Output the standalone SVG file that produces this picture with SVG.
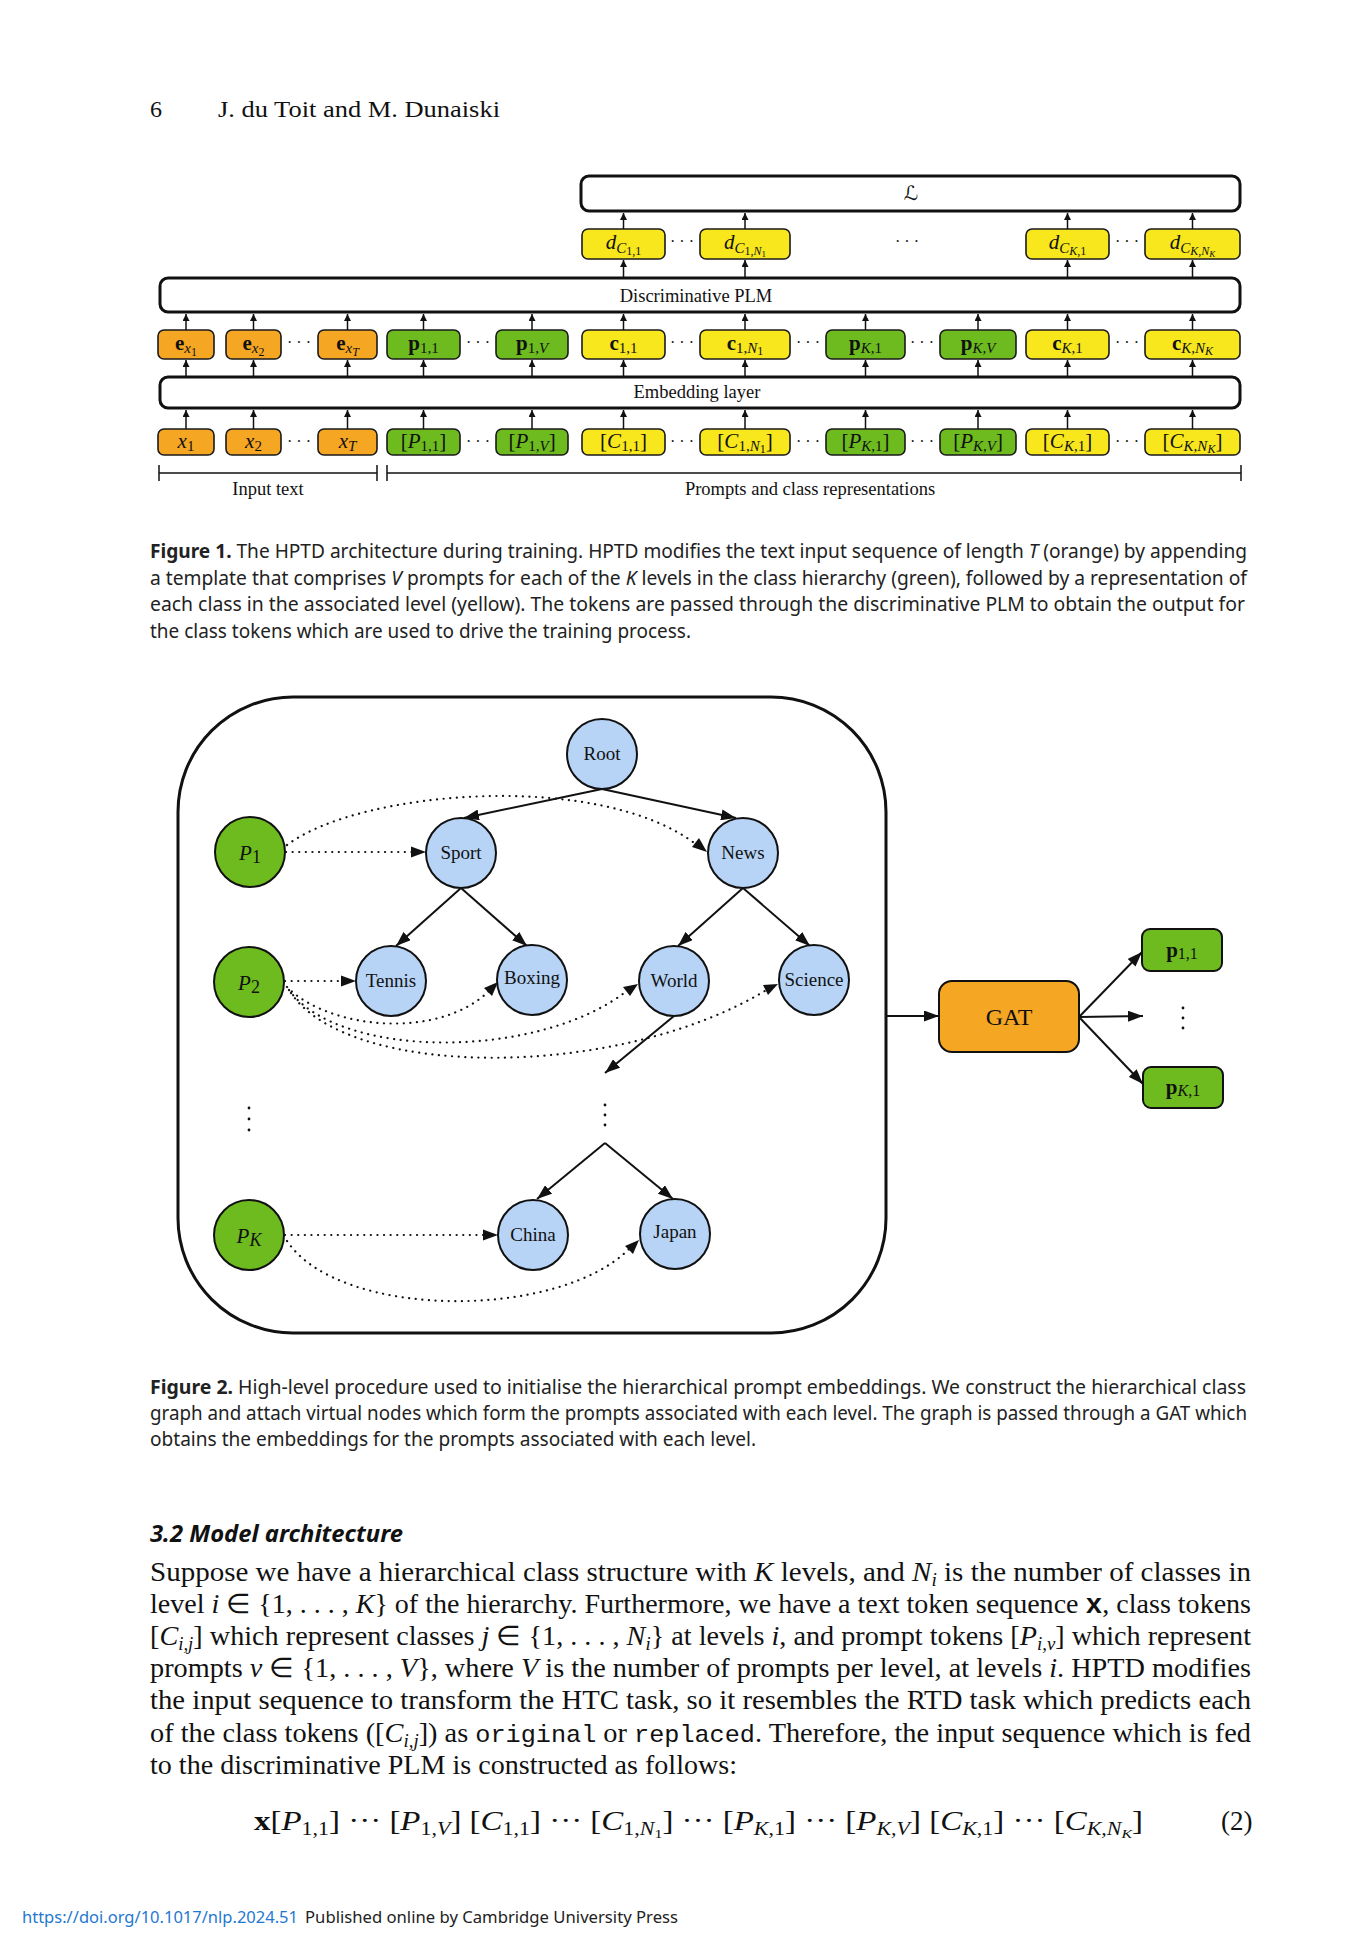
<svg xmlns="http://www.w3.org/2000/svg" width="1370" height="1944" viewBox="0 0 1370 1944">
<style>
.bg{fill:#ffffff}
.or{fill:#F5A623;stroke:#1a1a1a;stroke-width:1.6}
.gr{fill:#6DBB1E;stroke:#1a1a1a;stroke-width:1.6}
.ye{fill:#F8E71C;stroke:#1a1a1a;stroke-width:1.6}
.big{fill:#ffffff;stroke:#111;stroke-width:3}
.bl{fill:#B7D4F6;stroke:#111;stroke-width:2}
.gn{fill:#6DBB1E;stroke:#111;stroke-width:2}
.t{font-family:"Liberation Serif","Times New Roman",serif;font-size:21px;fill:#111;text-anchor:middle}
.i{font-style:italic}
.b{font-weight:bold}
.s{font-size:15px}
.ss{font-size:12px}
.dots{font-family:"Liberation Serif",serif;font-size:16px;fill:#111;text-anchor:middle}
.a1{stroke:#111;stroke-width:1.5;fill:none}
.a2{stroke:#111;stroke-width:2;fill:none}
.dt{stroke:#111;stroke-width:2.2;fill:none;stroke-dasharray:0.1 6.5;stroke-linecap:round}
.lab{font-family:"Liberation Serif","Times New Roman",serif;font-size:19px;fill:#111;text-anchor:middle}
.cap{font-family:"Noto Sans","Liberation Sans",sans-serif;font-size:19px;fill:#222}
.body{font-family:"Liberation Serif","Times New Roman",serif;font-size:27px;fill:#111}
.mono{font-family:"Liberation Mono","DejaVu Sans Mono",monospace}
</style>
<defs>
<marker id="m1" markerUnits="userSpaceOnUse" markerWidth="7" markerHeight="7" refX="7" refY="3.5" orient="auto"><path d="M0,0 L7,3.5 L0,7 z" fill="#111"/></marker>
<marker id="m2" markerUnits="userSpaceOnUse" markerWidth="15" markerHeight="11" refX="15" refY="5.5" orient="auto"><path d="M0,0 L15,5.5 L0,11 z" fill="#111"/></marker>
</defs>
<rect class="bg" x="0" y="0" width="1370" height="1944"/>

<g id="header">
<text x="150" y="117" font-family="Liberation Serif,serif" font-size="24" fill="#111">6</text>
<text x="218" y="117" font-family="Liberation Serif,serif" font-size="24" fill="#111" textLength="282" lengthAdjust="spacingAndGlyphs">J. du Toit and M. Dunaiski</text>
</g>

<!-- ================= FIGURE 1 ================= -->
<g id="fig1-loss"><rect class="big" x="581" y="176" width="659" height="35" rx="8"/>
<text x="911" y="200" font-family="DejaVu Serif,DejaVu Sans,serif" font-style="italic" font-size="20" fill="#111" text-anchor="middle">ℒ</text></g>
<g id="fig1-plm"><rect class="big" x="160" y="278" width="1080" height="34" rx="8"/>
<text x="696" y="302" font-family="Liberation Serif,serif" font-size="18.5" fill="#111" text-anchor="middle">Discriminative PLM</text></g>
<g id="fig1-emb"><rect class="big" x="160" y="377" width="1080" height="31" rx="8"/>
<text x="697" y="398" font-family="Liberation Serif,serif" font-size="18.5" fill="#111" text-anchor="middle">Embedding layer</text></g>

<g id="d11"><rect class="ye" x="582" y="229" width="83" height="30" rx="6"/><text class="t" x="623.5" y="249"><tspan class="i">d</tspan><tspan class="s i" dy="4">C</tspan><tspan class="ss" dy="2">1,1</tspan></text></g>
<g id="d1N"><rect class="ye" x="700" y="229" width="90" height="30" rx="6"/><text class="t" x="745" y="249"><tspan class="i">d</tspan><tspan class="s i" dy="4">C</tspan><tspan class="ss" dy="2">1,</tspan><tspan class="ss i">N</tspan><tspan font-size="9" dy="2">1</tspan></text></g>
<g id="dK1"><rect class="ye" x="1026" y="229" width="83" height="30" rx="6"/><text class="t" x="1067.5" y="249"><tspan class="i">d</tspan><tspan class="s i" dy="4">C</tspan><tspan class="ss i" dy="2">K</tspan><tspan class="ss">,1</tspan></text></g>
<g id="dKN"><rect class="ye" x="1145" y="229" width="95" height="30" rx="6"/><text class="t" x="1192.5" y="249"><tspan class="i">d</tspan><tspan class="s i" dy="4">C</tspan><tspan class="ss i" dy="2">K,N</tspan><tspan class="i" font-size="9" dy="2">K</tspan></text></g>

<g id="ex1"><rect class="or" x="158" y="330" width="56" height="29" rx="6"/><text class="t" x="186" y="350"><tspan class="b">e</tspan><tspan class="s i" dy="3">x</tspan><tspan class="ss" dy="3">1</tspan></text></g>
<g id="ex2"><rect class="or" x="226" y="330" width="55" height="29" rx="6"/><text class="t" x="253.5" y="350"><tspan class="b">e</tspan><tspan class="s i" dy="3">x</tspan><tspan class="ss" dy="3">2</tspan></text></g>
<g id="exT"><rect class="or" x="318" y="330" width="59" height="29" rx="6"/><text class="t" x="347.5" y="350"><tspan class="b">e</tspan><tspan class="s i" dy="3">x</tspan><tspan class="ss i" dy="3">T</tspan></text></g>
<g id="p11"><rect class="gr" x="387" y="330" width="73" height="29" rx="6"/><text class="t" x="423.5" y="350"><tspan class="b">p</tspan><tspan class="s" dy="3">1,1</tspan></text></g>
<g id="p1V"><rect class="gr" x="496" y="330" width="72" height="29" rx="6"/><text class="t" x="532" y="350"><tspan class="b">p</tspan><tspan class="s" dy="3">1,</tspan><tspan class="s i">V</tspan></text></g>
<g id="c11"><rect class="ye" x="582" y="330" width="83" height="29" rx="6"/><text class="t" x="623.5" y="350"><tspan class="b">c</tspan><tspan class="s" dy="3">1,1</tspan></text></g>
<g id="c1N"><rect class="ye" x="700" y="330" width="90" height="29" rx="6"/><text class="t" x="745" y="350"><tspan class="b">c</tspan><tspan class="s" dy="3">1,</tspan><tspan class="s i">N</tspan><tspan class="ss" dy="2">1</tspan></text></g>
<g id="pK1"><rect class="gr" x="826" y="330" width="79" height="29" rx="6"/><text class="t" x="865.5" y="350"><tspan class="b">p</tspan><tspan class="s i" dy="3">K</tspan><tspan class="s">,1</tspan></text></g>
<g id="pKV"><rect class="gr" x="940" y="330" width="76" height="29" rx="6"/><text class="t" x="978" y="350"><tspan class="b">p</tspan><tspan class="s i" dy="3">K,V</tspan></text></g>
<g id="cK1"><rect class="ye" x="1026" y="330" width="83" height="29" rx="6"/><text class="t" x="1067.5" y="350"><tspan class="b">c</tspan><tspan class="s i" dy="3">K</tspan><tspan class="s">,1</tspan></text></g>
<g id="cKN"><rect class="ye" x="1145" y="330" width="95" height="29" rx="6"/><text class="t" x="1192.5" y="350"><tspan class="b">c</tspan><tspan class="s i" dy="3">K,N</tspan><tspan class="ss i" dy="2">K</tspan></text></g>

<g id="x1"><rect class="or" x="158" y="429" width="56" height="26" rx="6"/><text class="t" x="186" y="448"><tspan class="i">x</tspan><tspan class="s" dy="3">1</tspan></text></g>
<g id="x2"><rect class="or" x="226" y="429" width="55" height="26" rx="6"/><text class="t" x="253.5" y="448"><tspan class="i">x</tspan><tspan class="s" dy="3">2</tspan></text></g>
<g id="xT"><rect class="or" x="318" y="429" width="59" height="26" rx="6"/><text class="t" x="347.5" y="448"><tspan class="i">x</tspan><tspan class="s i" dy="3">T</tspan></text></g>
<g id="P11"><rect class="gr" x="387" y="429" width="73" height="26" rx="6"/><text class="t" x="423.5" y="448">[<tspan class="i">P</tspan><tspan class="s" dy="3">1,1</tspan><tspan dy="-3">]</tspan></text></g>
<g id="P1V"><rect class="gr" x="496" y="429" width="72" height="26" rx="6"/><text class="t" x="532" y="448">[<tspan class="i">P</tspan><tspan class="s" dy="3">1,</tspan><tspan class="s i">V</tspan><tspan dy="-3">]</tspan></text></g>
<g id="C11"><rect class="ye" x="582" y="429" width="83" height="26" rx="6"/><text class="t" x="623.5" y="448">[<tspan class="i">C</tspan><tspan class="s" dy="3">1,1</tspan><tspan dy="-3">]</tspan></text></g>
<g id="C1N"><rect class="ye" x="700" y="429" width="90" height="26" rx="6"/><text class="t" x="745" y="448">[<tspan class="i">C</tspan><tspan class="s" dy="3">1,</tspan><tspan class="s i">N</tspan><tspan class="ss" dy="2">1</tspan><tspan dy="-5">]</tspan></text></g>
<g id="PK1"><rect class="gr" x="826" y="429" width="79" height="26" rx="6"/><text class="t" x="865.5" y="448">[<tspan class="i">P</tspan><tspan class="s i" dy="3">K</tspan><tspan class="s">,1</tspan><tspan dy="-3">]</tspan></text></g>
<g id="PKV"><rect class="gr" x="940" y="429" width="76" height="26" rx="6"/><text class="t" x="978" y="448">[<tspan class="i">P</tspan><tspan class="s i" dy="3">K,V</tspan><tspan dy="-3">]</tspan></text></g>
<g id="CK1"><rect class="ye" x="1026" y="429" width="83" height="26" rx="6"/><text class="t" x="1067.5" y="448">[<tspan class="i">C</tspan><tspan class="s i" dy="3">K</tspan><tspan class="s">,1</tspan><tspan dy="-3">]</tspan></text></g>
<g id="CKN"><rect class="ye" x="1145" y="429" width="95" height="26" rx="6"/><text class="t" x="1192.5" y="448">[<tspan class="i">C</tspan><tspan class="s i" dy="3">K,N</tspan><tspan class="ss i" dy="2">K</tspan><tspan dy="-5">]</tspan></text></g>

<g id="fig1-dots">
<text class="dots" x="682" y="247">· · ·</text><text class="dots" x="907" y="247">· · ·</text><text class="dots" x="1127" y="247">· · ·</text>
<text class="dots" x="299" y="348">· · ·</text><text class="dots" x="478" y="348">· · ·</text><text class="dots" x="682" y="348">· · ·</text><text class="dots" x="808" y="348">· · ·</text><text class="dots" x="922" y="348">· · ·</text><text class="dots" x="1127" y="348">· · ·</text>
<text class="dots" x="299" y="447">· · ·</text><text class="dots" x="478" y="447">· · ·</text><text class="dots" x="682" y="447">· · ·</text><text class="dots" x="808" y="447">· · ·</text><text class="dots" x="922" y="447">· · ·</text><text class="dots" x="1127" y="447">· · ·</text>
</g>

<g id="fig1-connectors">
<g marker-end="url(#m1)" class="a1">
<line x1="186" y1="429" x2="186" y2="410"/><line x1="253.5" y1="429" x2="253.5" y2="410"/><line x1="347.5" y1="429" x2="347.5" y2="410"/><line x1="423.5" y1="429" x2="423.5" y2="410"/><line x1="532" y1="429" x2="532" y2="410"/><line x1="623.5" y1="429" x2="623.5" y2="410"/><line x1="745" y1="429" x2="745" y2="410"/><line x1="865.5" y1="429" x2="865.5" y2="410"/><line x1="978" y1="429" x2="978" y2="410"/><line x1="1067.5" y1="429" x2="1067.5" y2="410"/><line x1="1192.5" y1="429" x2="1192.5" y2="410"/>
<line x1="186" y1="377" x2="186" y2="360"/><line x1="253.5" y1="377" x2="253.5" y2="360"/><line x1="347.5" y1="377" x2="347.5" y2="360"/><line x1="423.5" y1="377" x2="423.5" y2="360"/><line x1="532" y1="377" x2="532" y2="360"/><line x1="623.5" y1="377" x2="623.5" y2="360"/><line x1="745" y1="377" x2="745" y2="360"/><line x1="865.5" y1="377" x2="865.5" y2="360"/><line x1="978" y1="377" x2="978" y2="360"/><line x1="1067.5" y1="377" x2="1067.5" y2="360"/><line x1="1192.5" y1="377" x2="1192.5" y2="360"/>
<line x1="186" y1="330" x2="186" y2="314"/><line x1="253.5" y1="330" x2="253.5" y2="314"/><line x1="347.5" y1="330" x2="347.5" y2="314"/><line x1="423.5" y1="330" x2="423.5" y2="314"/><line x1="532" y1="330" x2="532" y2="314"/><line x1="623.5" y1="330" x2="623.5" y2="314"/><line x1="745" y1="330" x2="745" y2="314"/><line x1="865.5" y1="330" x2="865.5" y2="314"/><line x1="978" y1="330" x2="978" y2="314"/><line x1="1067.5" y1="330" x2="1067.5" y2="314"/><line x1="1192.5" y1="330" x2="1192.5" y2="314"/>
<line x1="623.5" y1="278" x2="623.5" y2="260"/><line x1="745" y1="278" x2="745" y2="260"/><line x1="1067.5" y1="278" x2="1067.5" y2="260"/><line x1="1192.5" y1="278" x2="1192.5" y2="260"/>
<line x1="623.5" y1="229" x2="623.5" y2="213"/><line x1="745" y1="229" x2="745" y2="213"/><line x1="1067.5" y1="229" x2="1067.5" y2="213"/><line x1="1192.5" y1="229" x2="1192.5" y2="213"/>
</g>
<g class="a1">
<line x1="159" y1="473" x2="377" y2="473"/><line x1="159" y1="465" x2="159" y2="481"/><line x1="377" y1="465" x2="377" y2="481"/>
<line x1="387" y1="473" x2="1241" y2="473"/><line x1="387" y1="465" x2="387" y2="481"/><line x1="1241" y1="465" x2="1241" y2="481"/>
</g>
</g>
<text x="268" y="495" font-family="Liberation Serif,serif" font-size="18.5" fill="#111" text-anchor="middle">Input text</text>
<text x="810" y="495" font-family="Liberation Serif,serif" font-size="18.5" fill="#111" text-anchor="middle">Prompts and class representations</text>

<g id="caption1" class="cap">
<text x="150" y="558" textLength="1097" lengthAdjust="spacingAndGlyphs"><tspan font-weight="bold">Figure 1.</tspan>  The HPTD architecture during training. HPTD modifies the text input sequence of length <tspan font-style="italic">T</tspan> (orange) by appending</text>
<text x="150" y="585" textLength="1097" lengthAdjust="spacingAndGlyphs">a template that comprises <tspan font-style="italic">V</tspan> prompts for each of the <tspan font-style="italic">K</tspan> levels in the class hierarchy (green), followed by a representation of</text>
<text x="150" y="611" textLength="1095" lengthAdjust="spacingAndGlyphs">each class in the associated level (yellow). The tokens are passed through the discriminative PLM to obtain the output for</text>
<text x="150" y="638" textLength="541" lengthAdjust="spacingAndGlyphs">the class tokens which are used to drive the training process.</text>
</g>

<!-- ================= FIGURE 2 ================= -->
<g id="fig2-frame"><rect x="178" y="697" width="708" height="636" rx="115" ry="115" fill="none" stroke="#111" stroke-width="3"/></g>

<g id="fig2-connectors">
<g class="a2" marker-end="url(#m2)">
<line x1="602" y1="789" x2="464" y2="818"/>
<line x1="602" y1="789" x2="736" y2="818"/>
<line x1="461" y1="888" x2="396" y2="946"/>
<line x1="461" y1="888" x2="527" y2="946"/>
<line x1="743" y1="888" x2="678" y2="946"/>
<line x1="743" y1="888" x2="810" y2="946"/>
<line x1="674" y1="1016" x2="605" y2="1073"/>
<line x1="605" y1="1143" x2="537" y2="1199"/>
<line x1="605" y1="1143" x2="673" y2="1199"/>
<line x1="886" y1="1016" x2="939" y2="1016"/>
<line x1="1079" y1="1017" x2="1142" y2="952"/>
<line x1="1079" y1="1017" x2="1143" y2="1016"/>
<line x1="1079" y1="1017" x2="1143" y2="1084"/>
</g>
<g class="dt">
<path d="M286,852 L414,852"/>
<path d="M287,845 C360,790 600,770 697,845"/>
<path d="M285,981 L344,981"/>
<path d="M287,987 C330,1030 440,1040 490,990"/>
<path d="M289,990 C340,1060 540,1060 628,990"/>
<path d="M291,993 C350,1080 620,1080 768,989"/>
<path d="M285,1235 L487,1235"/>
<path d="M287,1241 C340,1320 560,1320 630,1248"/>
</g>
<g fill="#111">
<path d="M426,852 L411,846.5 L411,857.5 z"/>
<path d="M707,852 L699,838 L692,847 z"/>
<path d="M356,981 L341,975.5 L341,986.5 z"/>
<path d="M498,982 L484,988 L492,996 z"/>
<path d="M638,984 L623,987 L630,996 z"/>
<path d="M778,984 L763,985 L768,995 z"/>
<path d="M498,1235 L483,1229.5 L483,1240.5 z"/>
<path d="M639,1240 L625,1246 L633,1254 z"/>
</g>
</g>

<g id="n-root"><circle class="bl" cx="602" cy="754" r="35"/><text class="lab" x="602" y="760">Root</text></g>
<g id="n-sport"><circle class="bl" cx="461" cy="853" r="35"/><text class="lab" x="461" y="859">Sport</text></g>
<g id="n-news"><circle class="bl" cx="743" cy="853" r="35"/><text class="lab" x="743" y="859">News</text></g>
<g id="n-p1"><circle class="gn" cx="250" cy="852" r="35"/><text class="t" x="250" y="860" font-size="27"><tspan class="i">P</tspan><tspan font-size="18" dy="3">1</tspan></text></g>
<g id="n-tennis"><circle class="bl" cx="391" cy="981" r="35"/><text class="lab" x="391" y="987">Tennis</text></g>
<g id="n-boxing"><circle class="bl" cx="532" cy="980" r="35"/><text class="lab" x="532" y="984">Boxing</text></g>
<g id="n-world"><circle class="bl" cx="674" cy="981" r="35"/><text class="lab" x="674" y="987">World</text></g>
<g id="n-science"><circle class="bl" cx="814" cy="980" r="35"/><text class="lab" x="814" y="986">Science</text></g>
<g id="n-p2"><circle class="gn" cx="249" cy="982" r="35"/><text class="t" x="249" y="990" font-size="27"><tspan class="i">P</tspan><tspan font-size="18" dy="3">2</tspan></text></g>
<g id="n-china"><circle class="bl" cx="533" cy="1235" r="35"/><text class="lab" x="533" y="1241">China</text></g>
<g id="n-japan"><circle class="bl" cx="675" cy="1234" r="35"/><text class="lab" x="675" y="1238">Japan</text></g>
<g id="n-pk"><circle class="gn" cx="249" cy="1235" r="35"/><text class="t" x="249" y="1243" font-size="27"><tspan class="i">P</tspan><tspan class="i" font-size="18" dy="3">K</tspan></text></g>

<g id="fig2-vdots" fill="#111">
<circle cx="249" cy="1108" r="1.4"/><circle cx="249" cy="1119" r="1.4"/><circle cx="249" cy="1130" r="1.4"/>
<circle cx="605" cy="1105" r="1.4"/><circle cx="605" cy="1115" r="1.4"/><circle cx="605" cy="1125" r="1.4"/>
<circle cx="1183" cy="1008" r="1.4"/><circle cx="1183" cy="1018" r="1.4"/><circle cx="1183" cy="1028" r="1.4"/>
</g>

<g id="n-gat"><rect x="939" y="981" width="140" height="71" rx="13" fill="#F5A623" stroke="#111" stroke-width="2"/><text x="1009" y="1025" font-family="Liberation Serif,serif" font-size="24" fill="#111" text-anchor="middle">GAT</text></g>
<g id="n-out11"><rect class="gn" x="1142" y="929" width="80" height="42" rx="8"/><text class="t" x="1182" y="957" font-size="23"><tspan class="b">p</tspan><tspan font-size="16" dy="2">1,1</tspan></text></g>
<g id="n-outK1"><rect class="gn" x="1143" y="1067" width="80" height="41" rx="8"/><text class="t" x="1183" y="1094" font-size="23"><tspan class="b">p</tspan><tspan class="i" font-size="16" dy="2">K</tspan><tspan font-size="16">,1</tspan></text></g>

<g id="caption2" class="cap">
<text x="150" y="1394" textLength="1096" lengthAdjust="spacingAndGlyphs"><tspan font-weight="bold">Figure 2.</tspan>  High-level procedure used to initialise the hierarchical prompt embeddings. We construct the hierarchical class</text>
<text x="150" y="1420" textLength="1097" lengthAdjust="spacingAndGlyphs">graph and attach virtual nodes which form the prompts associated with each level. The graph is passed through a GAT which</text>
<text x="150" y="1446" textLength="606" lengthAdjust="spacingAndGlyphs">obtains the embeddings for the prompts associated with each level.</text>
</g>

<g id="section">
<text x="150" y="1542" font-family="Noto Sans,Liberation Sans,sans-serif" font-size="23" font-weight="bold" font-style="italic" fill="#111" textLength="253" lengthAdjust="spacingAndGlyphs">3.2 Model architecture</text>
<g class="body">
<text x="150" y="1581" textLength="1101" lengthAdjust="spacingAndGlyphs">Suppose we have a hierarchical class structure with <tspan class="i">K</tspan> levels, and <tspan class="i">N</tspan><tspan class="i" font-size="18" dy="5">i</tspan><tspan dy="-5"> is the number of classes in</tspan></text>
<text x="150" y="1613" textLength="1101" lengthAdjust="spacingAndGlyphs">level <tspan class="i">i</tspan> ∈ {1, . . . , <tspan class="i">K</tspan>} of the hierarchy. Furthermore, we have a text token sequence <tspan class="b mono">x</tspan>, class tokens</text>
<text x="150" y="1645" textLength="1101" lengthAdjust="spacingAndGlyphs">[<tspan class="i">C</tspan><tspan class="i" font-size="18" dy="5">i,j</tspan><tspan dy="-5">] which represent classes </tspan><tspan class="i">j</tspan> ∈ {1, . . . , <tspan class="i">N</tspan><tspan class="i" font-size="18" dy="5">i</tspan><tspan dy="-5">} at levels </tspan><tspan class="i">i</tspan>, and prompt tokens [<tspan class="i">P</tspan><tspan class="i" font-size="18" dy="5">i,v</tspan><tspan dy="-5">] which represent</tspan></text>
<text x="150" y="1677" textLength="1101" lengthAdjust="spacingAndGlyphs">prompts <tspan class="i">v</tspan> ∈ {1, . . . , <tspan class="i">V</tspan>}, where <tspan class="i">V</tspan> is the number of prompts per level, at levels <tspan class="i">i</tspan>. HPTD modifies</text>
<text x="150" y="1709" textLength="1101" lengthAdjust="spacingAndGlyphs">the input sequence to transform the HTC task, so it resembles the RTD task which predicts each</text>
<text x="150" y="1742" textLength="1101" lengthAdjust="spacingAndGlyphs">of the class tokens ([<tspan class="i">C</tspan><tspan class="i" font-size="18" dy="5">i,j</tspan><tspan dy="-5">]) as </tspan><tspan class="mono" font-size="24">original</tspan> or <tspan class="mono" font-size="24">replaced</tspan>. Therefore, the input sequence which is fed</text>
<text x="150" y="1774" textLength="587" lengthAdjust="spacingAndGlyphs">to the discriminative PLM is constructed as follows:</text>
<text x="254" y="1830" textLength="889" lengthAdjust="spacingAndGlyphs"><tspan class="b">x</tspan>[<tspan class="i">P</tspan><tspan font-size="18" dy="5">1,1</tspan><tspan dy="-5">] ··· [</tspan><tspan class="i">P</tspan><tspan font-size="18" dy="5">1,</tspan><tspan class="i" font-size="18">V</tspan><tspan dy="-5">] [</tspan><tspan class="i">C</tspan><tspan font-size="18" dy="5">1,1</tspan><tspan dy="-5">] ··· [</tspan><tspan class="i">C</tspan><tspan font-size="18" dy="5">1,</tspan><tspan class="i" font-size="18">N</tspan><tspan font-size="13" dy="3">1</tspan><tspan dy="-8">] ··· [</tspan><tspan class="i">P</tspan><tspan class="i" font-size="18" dy="5">K</tspan><tspan font-size="18">,1</tspan><tspan dy="-5">] ··· [</tspan><tspan class="i">P</tspan><tspan class="i" font-size="18" dy="5">K,V</tspan><tspan dy="-5">] [</tspan><tspan class="i">C</tspan><tspan class="i" font-size="18" dy="5">K</tspan><tspan font-size="18">,1</tspan><tspan dy="-5">] ··· [</tspan><tspan class="i">C</tspan><tspan class="i" font-size="18" dy="5">K,N</tspan><tspan class="i" font-size="13" dy="3">K</tspan><tspan dy="-8">]</tspan></text>
<text x="1221" y="1830">(2)</text>
</g>
</g>

<g id="footer">
<text x="22" y="1923" font-family="Noto Sans,Liberation Sans,sans-serif" font-size="16" fill="#1F78D1" textLength="276" lengthAdjust="spacingAndGlyphs">https://doi.org/10.1017/nlp.2024.51</text>
<text x="305" y="1923" font-family="Noto Sans,Liberation Sans,sans-serif" font-size="16" fill="#222" textLength="373" lengthAdjust="spacingAndGlyphs">Published online by Cambridge University Press</text>
</g>
</svg>
